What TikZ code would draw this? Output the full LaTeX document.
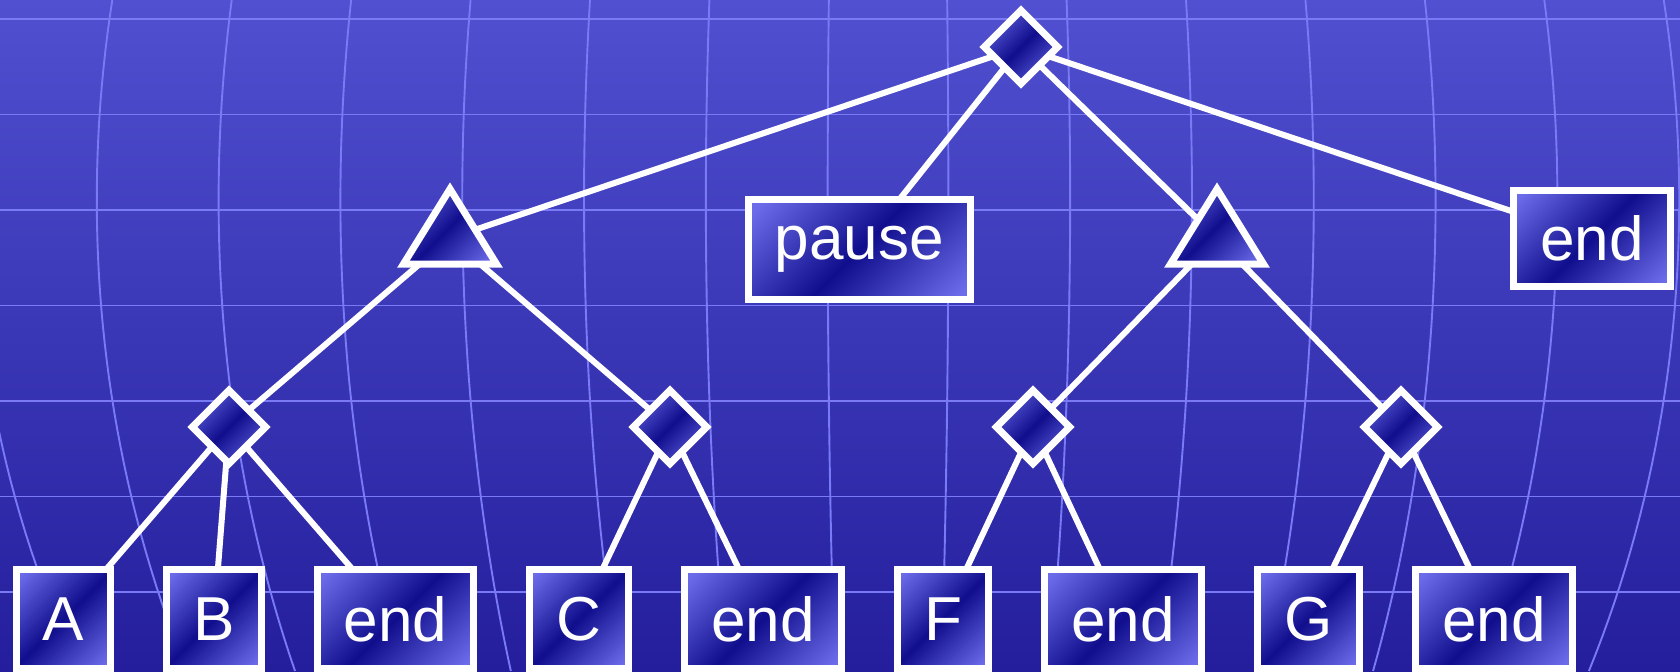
\documentclass[tikz,border=0pt]{standalone}
\usepackage{fontspec}
\setmainfont{Liberation Sans}
\usetikzlibrary{shapes.geometric}
\definecolor{bgtop}{RGB}{80,80,208}
\definecolor{bgbot}{RGB}{36,30,156}
\definecolor{gridc}{RGB}{122,122,245}
\definecolor{nlite}{RGB}{108,108,235}
\definecolor{ndark}{RGB}{16,14,140}
\pgfdeclareverticalshading{nodeshade}{100bp}{color(0bp)=(nlite); color(18bp)=(nlite); color(50bp)=(ndark); color(82bp)=(nlite); color(100bp)=(nlite)}
\newcommand\lblfont{\fontsize{53pt}{60pt}\selectfont}
\tikzset{
  nodefill/.style={draw=white, line width=0.21cm, shade, shading=nodeshade, shading angle=45, outer sep=0pt},
  boxn/.style={nodefill, rectangle, inner xsep=0.8cm, inner ysep=0pt, minimum height=2.97cm, text=white, font=\lblfont},
  dia/.style={nodefill, diamond, inner sep=0pt, minimum width=2.2cm, minimum height=2.2cm},
  tri/.style={nodefill, isosceles triangle, isosceles triangle stretches, shape border rotate=90, inner sep=0pt, minimum width=2.79cm, minimum height=2.25cm},
  conn/.style={draw=white, line width=0.18cm},
  gridl/.style={draw=gridc, line width=0.057cm}
}
\begin{document}
\begin{tikzpicture}[x=0.03cm, y=-0.03cm]
\useasboundingbox (0,0) rectangle (1680,671);
\begin{scope}
  \clip (0,0) rectangle (1680,671);
  \shade[top color=bgtop, bottom color=bgbot] (0,0) rectangle (1680,671);
  \foreach \k in {0,...,6} {
    \draw[gridl] (0,{19+95.5*\k}) -- (1680,{19+95.5*\k});
  }
  \foreach \d in {59.3,179,298.7,418.4,538.1,657.8,777.5,897.2} {
    \draw[gridl] plot[domain=0:671, samples=40, variable=\t]
      ({888+\d*(sqrt(103.0225-((\t-200)/100)*((\t-200)/100))/9.974)}, \t);
    \draw[gridl] plot[domain=0:671, samples=40, variable=\t]
      ({888-\d*(sqrt(103.0225-((\t-200)/100)*((\t-200)/100))/9.974)}, \t);
  }
\end{scope}
% level 0
\node[dia] (root) at (1021,47) {};
% level 1
\node[tri, anchor=apex] (t1) at (450,189) {};
\node[boxn, minimum height=3cm] (pause) at (859.5,249.5) {pause};
\node[tri, anchor=apex] (t2) at (1217,189) {};
\node[boxn, minimum height=2.88cm] (endtop) at (1592,238) {end};
% level 2
\node[dia] (d1) at (229,427) {};
\node[dia] (d2) at (670,427) {};
\node[dia] (d3) at (1033,427) {};
\node[dia] (d4) at (1401,427) {};
% leaves
\node[boxn] (A) at (63.5,619) {A};
\node[boxn] (B) at (214,619) {B};
\node[boxn] (e1) at (395.5,619) {end};
\node[boxn] (C) at (579,619) {C};
\node[boxn] (e2) at (763,619) {end};
\node[boxn] (F) at (943,619) {F};
\node[boxn] (e3) at (1123,619) {end};
\node[boxn] (G) at (1308.5,619) {G};
\node[boxn] (e4) at (1494,619) {end};
% connectors
\draw[conn] (root) -- (t1);
\draw[conn] (root) -- (pause);
\draw[conn] (root) -- (t2);
\draw[conn] (root) -- (endtop);
\draw[conn] (t1) -- (d1);
\draw[conn] (t1) -- (d2);
\draw[conn] (t2) -- (d3);
\draw[conn] (t2) -- (d4);
\draw[conn] (d1) -- (A);
\draw[conn] (d1) -- (B);
\draw[conn] (d1) -- (e1);
\draw[conn] (d2) -- (C);
\draw[conn] (d2) -- (e2);
\draw[conn] (d3) -- (F);
\draw[conn] (d3) -- (e3);
\draw[conn] (d4) -- (G);
\draw[conn] (d4) -- (e4);
\end{tikzpicture}
\end{document}
